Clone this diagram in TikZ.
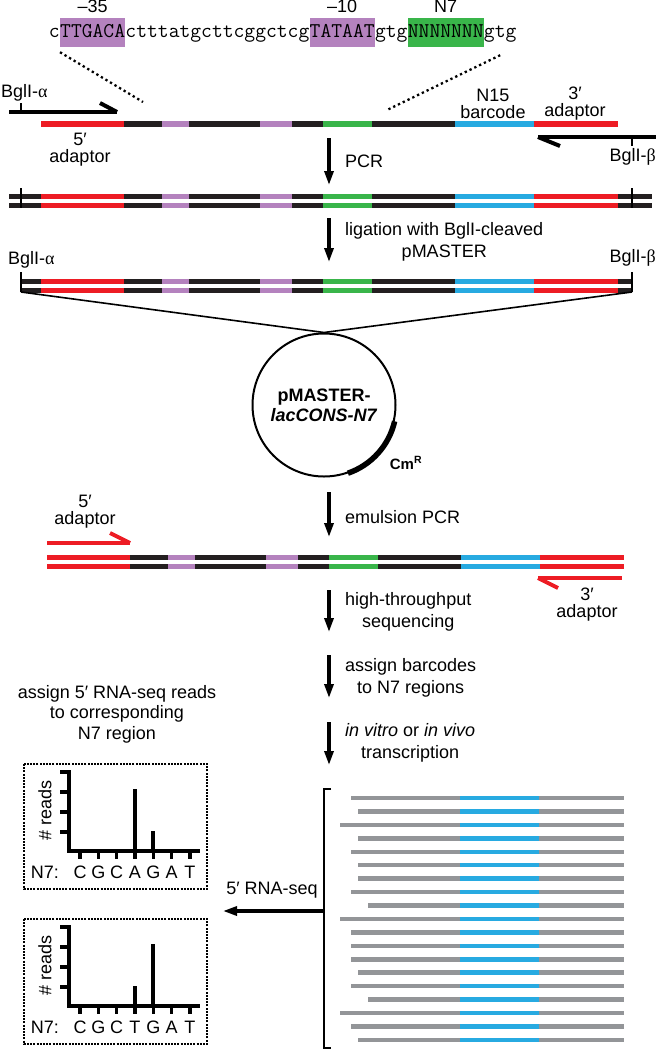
\documentclass[tikz,border=0pt]{standalone}
\usepackage{fontspec}
\setmainfont{Liberation Sans}
\newfontfamily\grkfont{Liberation Serif}
\usetikzlibrary{positioning}
\usetikzlibrary{arrows.meta}

\definecolor{adred}{RGB}{237,28,36}
\definecolor{boxpurple}{RGB}{180,130,190}
\definecolor{n7green}{RGB}{57,181,74}
\definecolor{bcblue}{RGB}{39,170,225}
\definecolor{readgray}{RGB}{147,149,152}
\definecolor{dnablack}{RGB}{35,31,32}

\newcommand{\promsegs}{41/124/adred, 124/162/dnablack, 162/189/boxpurple, 189/260/dnablack,
  260/292/boxpurple, 292/323/dnablack, 323/372/n7green, 372/455/dnablack,
  455/534/bcblue, 534/618/adred}
\newcommand{\bgl}[1]{BglI-{\grkfont #1}}

\tikzset{
  every node/.style={font=\fontsize{18}{20}\selectfont, inner sep=0pt},
  seqtxt/.style={font=\ttfamily\fontsize{21}{21}\selectfont, inner sep=0pt, text height=19pt, text depth=10pt},
  twoline/.style={align=center, font=\fontsize{18}{17}\selectfont},
  steptext/.style={align=center, anchor=west, font=\fontsize{18}{22}\selectfont},
  strand/.style={line width=6pt},
  duplex/.style={line width=5pt},
  primer/.style={line width=4pt},
  cutmark/.style={line width=2.2pt},
  flow/.style={line width=3.2pt, -{Triangle[length=14pt,width=9pt]}},
  dotline/.style={line width=2.3pt, dash pattern=on 2.3pt off 3pt},
  chartbox/.style={line width=2.2pt, dash pattern=on 2pt off 1.2pt},
  axisline/.style={line width=3.3pt},
  readline/.style={line width=4.5pt}
}

\begin{document}
\begin{tikzpicture}[x=1pt,y=-1pt]
\useasboundingbox (0,0) rectangle (656,1050);

% promoter sequence
\node[seqtxt, anchor=east] (s0) at (60,32.5) {c};
\node[seqtxt, fill=boxpurple, right=0pt of s0] (s1) {TTGACA};
\node[seqtxt, right=0pt of s1] (s2) {ctttatgcttcggctcg};
\node[seqtxt, fill=boxpurple, right=0pt of s2] (s3) {TATAAT};
\node[seqtxt, right=0pt of s3] (s4) {gtg};
\node[seqtxt, fill=n7green, right=0pt of s4] (s5) {NNNNNNN};
\node[seqtxt, right=0pt of s5] (s6) {gtg};
\node[above=5pt of s1] (m35) {\textendash35};
\node[above=5pt of s3] (m10) {\textendash10};
\node[above=5pt of s5] (n7top) {N7};
\coordinate (dotL) at (143,102);
\coordinate (dotR) at (387,110);
\draw[dotline] ([yshift=-5pt]s1.south west) -- (dotL);
\draw[dotline] ([yshift=-8pt]s6.south) -- (dotR);

% template
\foreach \a/\b/\c in \promsegs
  \draw[strand, \c] (\a,124) -- (\b,124);
\node[anchor=west] (bgla1) at (1,92.5) {\bgl{α}};
\draw[primer] (9,112) -- (117,112);
\draw[primer] (117,112) -- (100,103);
\draw[cutmark] (21,103) -- (21,112);
\node[twoline] (ad5a) at (80,149.5) {5′\\adaptor};
\node[twoline] (bcode) at (493,104) {N15\\barcode};
\node[twoline] (ad3a) at (575,104) {3′\\adaptor};
\draw[primer] (538,137) -- (656,137);
\draw[primer] (538,137) -- (560,146);
\draw[cutmark] (632,137) -- (632,146);
\node[anchor=east] (bglb1) at (656,157) {\bgl{β}};

% flow arrows
\foreach \n/\ya/\yb in {pcr/138/185, lig/218/262, emul/492/537, seqn/590/632, asgn/655/698, trans/722/765}{
  \coordinate (\n-top) at (329,\ya);
  \coordinate (\n-bot) at (329,\yb);
  \draw[flow] (\n-top) -- (\n-bot);
}
\node[steptext] (pcrlbl) at (345,161.5) {PCR};
\node[steptext] (liglbl) at (345,241.5) {ligation with BglI-cleaved\\pMASTER};

% PCR product
\foreach \yy in {196,205}{
  \draw[duplex, dnablack] (9,\yy) -- (41,\yy);
  \foreach \a/\b/\c in \promsegs
    \draw[duplex, \c] (\a,\yy) -- (\b,\yy);
  \draw[duplex, dnablack] (618,\yy) -- (652,\yy);
}
\draw[cutmark] (21,188) -- (21,208);
\draw[cutmark] (632,188) -- (632,208);

% cleaved insert
\foreach \yy in {281,290}{
  \draw[duplex, dnablack] (21,\yy) -- (41,\yy);
  \foreach \a/\b/\c in \promsegs
    \draw[duplex, \c] (\a,\yy) -- (\b,\yy);
  \draw[duplex, dnablack] (618,\yy) -- (631,\yy);
}
\draw[cutmark] (21,272) -- (21,292);
\draw[cutmark] (632,272) -- (632,292);
\node[anchor=west] (bgla2) at (8,260) {\bgl{α}};
\node[anchor=east] (bglb2) at (656,258) {\bgl{β}};
\coordinate (ligL) at (21,292);
\coordinate (ligR) at (632,292);

% plasmid
\node[draw, circle, line width=2pt, minimum size=143pt, align=center,
  font=\bfseries\fontsize{18}{20}\selectfont] (plasmid) at (324,405) {pMASTER-\\\textit{lacCONS-N7}};
\draw[line width=1.6pt] (ligL) -- (plasmid.north) -- (ligR);
\draw[line width=5.5pt] (plasmid.-13) arc[start angle=-13, end angle=-71, radius=72pt];
\node[font=\bfseries\fontsize{15}{16}\selectfont] (cmr) at (406,463) {Cm\textsuperscript{R}};

\node[steptext] (emullbl) at (345,517.5) {emulsion PCR};

% emulsion PCR product
\begin{scope}[xshift=6pt]
\foreach \yy in {557,566}
  \foreach \a/\b/\c in \promsegs
    \draw[duplex, \c] (\a,\yy) -- (\b,\yy);
\end{scope}
\node[twoline] (ad5b) at (85,512) {5′\\adaptor};
\draw[primer, adred] (47,543) -- (130,543);
\draw[primer, adred] (130,543) -- (110,533);
\draw[primer, adred] (538,578) -- (622,578);
\draw[primer, adred] (538,578) -- (558,588);
\node[twoline] (ad3b) at (587,605) {3′\\adaptor};

\node[steptext] (seqlbl) at (345,611.5) {high-throughput\\sequencing};
\node[steptext] (asgnlbl) at (345,677.5) {assign barcodes\\to N7 regions};
\node[steptext] (translbl) at (345,743) {\textit{in vitro} or \textit{in vivo}\\transcription};

% RNA-seq reads
\foreach \s [count=\i from 0] in {351,358,340,358,351,358,358,351,368,340,351,351,351,358,351,368,340,351,358}{
  \draw[readline, readgray] (\s,{798+13.44*\i}) -- (624,{798+13.44*\i});
  \draw[readline, bcblue] (460,{798+13.44*\i}) -- (539,{798+13.44*\i});
}
\draw[line width=2.5pt] (331,789) -- (324,789) -- (324,1048) -- (331,1048);
\coordinate (brk) at (324,911);
\coordinate (rnatip) at (223,911);
\draw[flow] (brk) -- (rnatip);
\node (rnalbl) at (272,890.5) {5′ RNA-seq};

\node[align=center, font=\fontsize{18}{20.5}\selectfont] (asgnreads) at (117,714) {assign 5′ RNA-seq reads\\to corresponding\\N7 region};

% read count charts
\foreach \dy/\nts/\hA/\hB in {0/{C,G,C,A,G,A,T}/62/20, 155/{C,G,C,T,G,A,T}/20/62}{
  \begin{scope}[shift={(0,\dy)}]
    \draw[chartbox] (24,764) rectangle (207,889);
    \draw[axisline] (69,770) -- (69,851) -- (200,851);
    \foreach \ty in {772,792,812,832}
      \draw[axisline] (60,\ty) -- (69,\ty);
    \foreach \l [count=\k from 0] in \nts {
      \draw[axisline] ({80+18.33*\k},851) -- ({80+18.33*\k},859);
      \node (nt\dy-\k) at ({80+18.33*\k},872) {\l};
    }
    \draw[axisline] (135,851) -- (135,851-\hA);
    \draw[axisline] (153,851) -- (153,851-\hB);
    \node (n7lbl\dy) at (45,872) {N7:};
    \node[rotate=90] (ylbl\dy) at (45,810) {\# reads};
  \end{scope}
}
\end{tikzpicture}
\end{document}
